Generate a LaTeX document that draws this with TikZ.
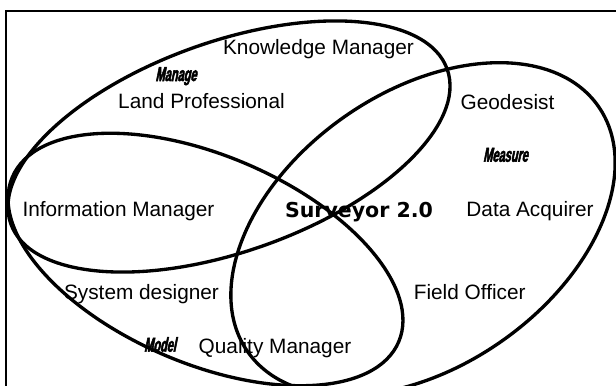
\documentclass[tikz,border=0pt]{standalone}
\usepackage{fontspec}
\setmainfont{Liberation Sans}
\newfontfamily\heavyfont{DejaVu Sans}
\newfontfamily\tagfont[FakeStretch=0.55, FakeSlant=0.2, FakeBold=2.5]{Liberation Sans}
\tikzset{
  venn/.style={line width=2.5pt},
  frameline/.style={line width=1.3pt},
  role/.style={inner sep=0pt, anchor=base, font=\fontsize{15.6}{18}\selectfont},
  tag/.style={inner sep=0pt, anchor=base, font=\fontsize{15}{17}\selectfont\tagfont\bfseries},
  hub/.style={inner sep=0pt, anchor=base, font=\fontsize{15.4}{18}\selectfont\heavyfont\bfseries}
}
\begin{document}
\begin{tikzpicture}[x=0.75pt,y=-0.75pt]
\useasboundingbox (0,0) rectangle (616,385);
\clip (0,0) rectangle (616,385);
\draw[frameline] (6,11) rectangle (630,400);
% Manage ellipse
\coordinate (cA) at (229,146.5);
\draw[venn, rotate around={19.5:(cA)}] (cA) ellipse [x radius=231.5, y radius=105];
% Model ellipse
\coordinate (cB) at (205.5,259.5);
\draw[venn, rotate around={-23.1:(cB)}] (cB) ellipse [x radius=210, y radius=104];
% Measure ellipse
\coordinate (cC) at (423,229);
\draw[venn, rotate around={35:(cC)}] (cC) ellipse [x radius=214, y radius=137];
% labels
\node[role] (km) at (318.5,54.5) {Knowledge Manager};
\node[tag] (manage) at (176,81) {Manage};
\node[role] (lp) at (201.5,108.3) {Land Professional};
\node[role] (geo) at (507.5,109.3) {Geodesist};
\node[tag] (measure) at (505.5,161.7) {Measure};
\node[role] (im) at (118.5,216) {Information Manager};
\node[hub] (sv) at (359,217) {Surveyor 2.0};
\node[role] (da) at (530,216) {Data Acquirer};
\node[role] (sd) at (141.5,299.3) {System designer};
\node[role] (fo) at (469.7,299.3) {Field Officer};
\node[tag] (model) at (160,351.7) {Model};
\node[role] (qm) at (275,353.3) {Quality Manager};
\end{tikzpicture}
\end{document}
